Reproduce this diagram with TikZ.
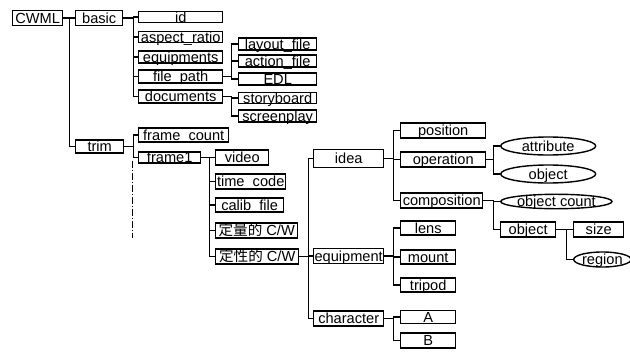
\documentclass[tikz,border=0pt]{standalone}
\usepackage{fontspec}
\setmainfont{Liberation Sans}
\newfontfamily\cjk{Noto Sans CJK SC}
\usetikzlibrary{shapes.geometric}
\tikzset{
	box/.style={rectangle, draw=black, line width=1.4pt, inner sep=0pt, anchor=west, text height=10.2pt, text depth=0pt, font=\fontsize{14.6}{16}\selectfont},
	oval/.style={ellipse, draw=black, line width=1.4pt, inner sep=0pt, anchor=west, text height=10.2pt, text depth=0pt, font=\fontsize{14.6}{16}\selectfont},
	link/.style={line width=1.6pt, draw=black},
	more/.style={line width=0.9pt, draw=black, dash pattern=on 7pt off 2pt on 1pt off 2pt},
}
\begin{document}
\begin{tikzpicture}[x=1pt, y=-1pt]
		\useasboundingbox (0,0) rectangle (630,356);
		% root and first level
		\node[box, minimum width=50, minimum height=15] (cwml) at (12,18) {CWML};
		\node[box, minimum width=47, minimum height=15] (basic) at (75,18) {basic};
		\node[box, minimum width=48, minimum height=13] (trim) at (75,146.5) {trim};
		% basic
		\node[box, minimum width=84, minimum height=11] (id) at (138,17) {id};
		\node[box, minimum width=84, minimum height=11] (aspect) at (138,37) {aspect\_ratio};
		\node[box, minimum width=84, minimum height=12] (equips) at (138,57) {equipments};
		\node[box, minimum width=84, minimum height=13] (filepath) at (138,76.5) {file\_path};
		\node[box, minimum width=84, minimum height=13] (docs) at (138,96.5) {documents};
		\node[box, minimum width=78, minimum height=12] (layout) at (238,44) {layout\_file};
		\node[box, minimum width=78, minimum height=12] (action) at (238,61) {action\_file};
		\node[box, minimum width=78, minimum height=12] (edl) at (238,79) {EDL};
		\node[box, minimum width=78, minimum height=11] (story) at (238,98) {storyboard};
		\node[box, minimum width=78, minimum height=12] (screen) at (238,116) {screenplay};
		% trim
		\node[box, minimum width=90, minimum height=14] (fcount) at (138,135) {frame\_count};
		\node[box, minimum width=62, minimum height=11] (frame) at (138,157.5) {frame1};
		\node[box, minimum width=53, minimum height=15] (video) at (215,157.5) {video};
		\node[box, minimum width=70, minimum height=15] (tcode) at (215,181.5) {time\_code};
		\node[box, minimum width=68, minimum height=14] (calib) at (215,205) {calib\_file};
		\node[box, minimum width=82, minimum height=15] (quant) at (215,230.5) {{\cjk 定量的} C/W};
		\node[box, minimum width=83, minimum height=15] (qual) at (215,256.5) {{\cjk 定性的} C/W};
		% qualitative C/W
		\node[box, minimum width=70, minimum height=18] (idea) at (313,158.5) {idea};
		\node[box, minimum width=70, minimum height=15] (equip) at (313,256) {equipment};
		\node[box, minimum width=70, minimum height=15] (chara) at (313,318.5) {character};
		\node[box, minimum width=85, minimum height=15] (pos) at (400,130.5) {position};
		\node[box, minimum width=85, minimum height=15] (oper) at (400,159.5) {operation};
		\node[box, minimum width=82, minimum height=15] (compo) at (400,200.5) {composition};
		\node[oval, minimum width=95, minimum height=18] (attr) at (500,146) {attribute};
		\node[oval, minimum width=95, minimum height=18] (obj) at (500,174) {object};
		\node[oval, minimum width=95, minimum height=14] (ocount) at (500,201.5) {object count};
		\node[box, minimum width=55, minimum height=15] (cobj) at (500,229.5) {object};
		\node[box, minimum width=50, minimum height=15] (size) at (573,229.5) {size};
		\node[oval, minimum width=54, minimum height=15] (region) at (573,259.5) {region};
		\node[box, minimum width=55, minimum height=14] (lens) at (400,228) {lens};
		\node[box, minimum width=55, minimum height=14] (mount) at (400,257) {mount};
		\node[box, minimum width=55, minimum height=14] (tripod) at (400,285) {tripod};
		\node[box, minimum width=55, minimum height=13] (ca) at (400,317) {A};
		\node[box, minimum width=55, minimum height=15] (cb) at (400,340.5) {B};
		% connectors
		\draw[link] (cwml.east) -- (basic.west);
		\draw[link] (cwml.east) -- ++(6,0) |- (trim.west);
		\draw[link] (basic.east) -- ++(10,0) |- (id.west);
		\draw[link] (basic.east) -- ++(10,0) |- (aspect.west);
		\draw[link] (basic.east) -- ++(10,0) |- (equips.west);
		\draw[link] (basic.east) -- ++(10,0) |- (filepath.west);
		\draw[link] (basic.east) -- ++(10,0) |- (docs.west);
		\draw[link] (filepath.east) -- ++(8,0) |- (layout.west);
		\draw[link] (filepath.east) -- ++(8,0) |- (action.west);
		\draw[link] (filepath.east) -- ++(8,0) |- (edl.west);
		\draw[link] (docs.east) -- ++(8,0) |- (story.west);
		\draw[link] (docs.east) -- ++(8,0) |- (screen.west);
		\draw[link] (trim.east) -- ++(9,0) |- (fcount.west);
		\draw[link] (trim.east) -- ++(9,0) |- (frame.west);
		\draw[more] (frame.west) ++(-6,3) -- ++(0,77);
		\draw[link] (frame.east) -- ++(8,0) |- (video.west);
		\draw[link] (frame.east) -- ++(8,0) |- (tcode.west);
		\draw[link] (frame.east) -- ++(8,0) |- (calib.west);
		\draw[link] (frame.east) -- ++(8,0) |- (quant.west);
		\draw[link] (frame.east) -- ++(8,0) |- (qual.west);
		\draw[link] (qual.east) -- ++(9,0) |- (idea.west);
		\draw[link] (qual.east) -- ++(9,0) |- (equip.west);
		\draw[link] (qual.east) -- ++(9,0) |- (chara.west);
		\draw[link] (idea.east) -- ++(9,0) |- (pos.west);
		\draw[link] (idea.east) -- ++(9,0) |- (oper.west);
		\draw[link] (idea.east) -- ++(9,0) |- (compo.west);
		\draw[link] (oper.east) -- ++(7,0) |- (attr.west);
		\draw[link] (oper.east) -- ++(7,0) |- (obj.west);
		\draw[link] (compo.east) -- ++(10,0) |- (ocount.west);
		\draw[link] (compo.east) -- ++(10,0) |- (cobj.west);
		\draw[link] (cobj.east) -- ++(10,0) |- (size.west);
		\draw[link] (cobj.east) -- ++(10,0) |- (region.west);
		\draw[link] (equip.east) -- ++(9,0) |- (lens.west);
		\draw[link] (equip.east) -- ++(9,0) |- (mount.west);
		\draw[link] (equip.east) -- ++(9,0) |- (tripod.west);
		\draw[link] (chara.east) -- ++(9,0) |- (ca.west);
		\draw[link] (chara.east) -- ++(9,0) |- (cb.west);
	\end{tikzpicture}
\end{document}
